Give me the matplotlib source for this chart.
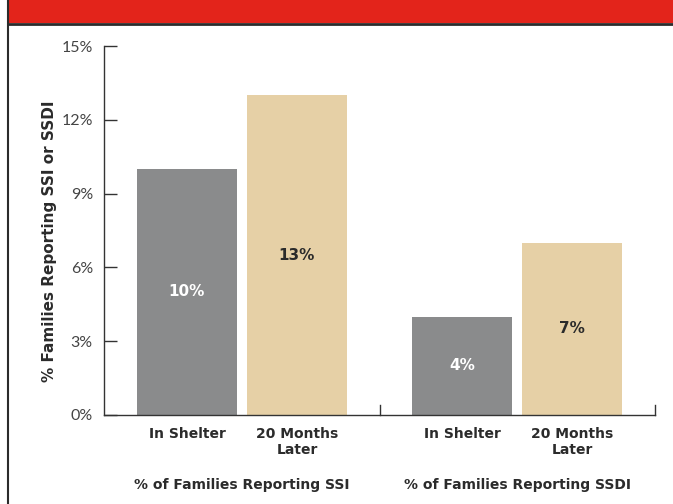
import numpy as np
import matplotlib as mpl
mpl.use('agg')
import matplotlib.pyplot as plt
from matplotlib.patches import Rectangle
from matplotlib.lines import Line2D

## data
groups = ['% of Families Reporting SSI', '% of Families Reporting SSDI']
periods = ['In Shelter', '20 Months\nLater']
in_shelter = [10, 4]
months_later = [13, 7]
yticks = [0, 3, 6, 9, 12, 15]

gray = '#8a8b8c'
beige = '#e6d0a6'
red = '#e3241b'
dark = '#2b2b2b'
bold_font = ['DejaVu Sans']

plt.rcParams['font.family'] = ['Lato', 'DejaVu Sans']

fig = plt.figure(figsize=(6.73, 5.04), dpi=100)
ax = fig.add_axes([104 / 673, 89 / 504, 551 / 673, 369 / 504])

## banner and left border
fig.patches.append(Rectangle((8 / 673, 1 - 23 / 504), 1, 23 / 504, transform=fig.transFigure,
                             facecolor=red, edgecolor='none'))
fig.lines.append(Line2D([8 / 673, 1], [1 - 24 / 504, 1 - 24 / 504], transform=fig.transFigure,
                        color=dark, linewidth=2))
fig.lines.append(Line2D([7.5 / 673, 7.5 / 673], [0, 1], transform=fig.transFigure,
                        color=dark, linewidth=1.5))

centers = np.array([1.38, 4.13])
off = 0.55
w = 1.0
b1 = ax.bar(centers - off, in_shelter, width=w, color=gray)
b2 = ax.bar(centers + off, months_later, width=w, color=beige)

for rect, v in zip(b1, in_shelter):
    ax.text(rect.get_x() + w / 2, v / 2, f'{v}%', ha='center', va='center', family=bold_font,
            color='white', fontsize=11, fontweight='bold')
for rect, v in zip(b2, months_later):
    ax.text(rect.get_x() + w / 2, v / 2, f'{v}%', ha='center', va='center', family=bold_font,
            color=dark, fontsize=11, fontweight='bold')

ax.set_xlim(0, 5.51)
ax.set_ylim(0, 15)
ax.set_yticks(yticks)
ax.set_yticklabels([f'{t}%' for t in yticks], fontsize=11.5, color='#444444')
ax.tick_params(axis='y', direction='in', length=9, width=1, color='#333333', pad=8)
ax.set_xticks([])

## group separator and end ticks
for xs in [(centers[0] + centers[1]) / 2, 5.51]:
    ax.plot([xs, xs], [0, 0.4], color='#333333', linewidth=1, clip_on=False)

for c, g in zip(centers, groups):
    ax.text(c - off, -0.5, periods[0], ha='center', va='top', fontsize=10, family=bold_font,
            fontweight='bold', color=dark)
    ax.text(c + off, -0.5, periods[1], ha='center', va='top', fontsize=10, family=bold_font,
            fontweight='bold', color=dark, linespacing=1.15)
    ax.text(c, -2.55, g, ha='center', va='top', fontsize=10, family=bold_font,
            fontweight='bold', color=dark)

for s in ['top', 'right']:
    ax.spines[s].set_visible(False)
for s in ['left', 'bottom']:
    ax.spines[s].set_color('#333333')
    ax.spines[s].set_linewidth(1)

fig.text(50 / 673, 1 - 241 / 504, '% Families Reporting SSI or SSDI', rotation=90,
         ha='center', va='center', fontsize=11, fontweight='bold', color=dark,
         family=bold_font)

fig.savefig('out.png', dpi=100)
